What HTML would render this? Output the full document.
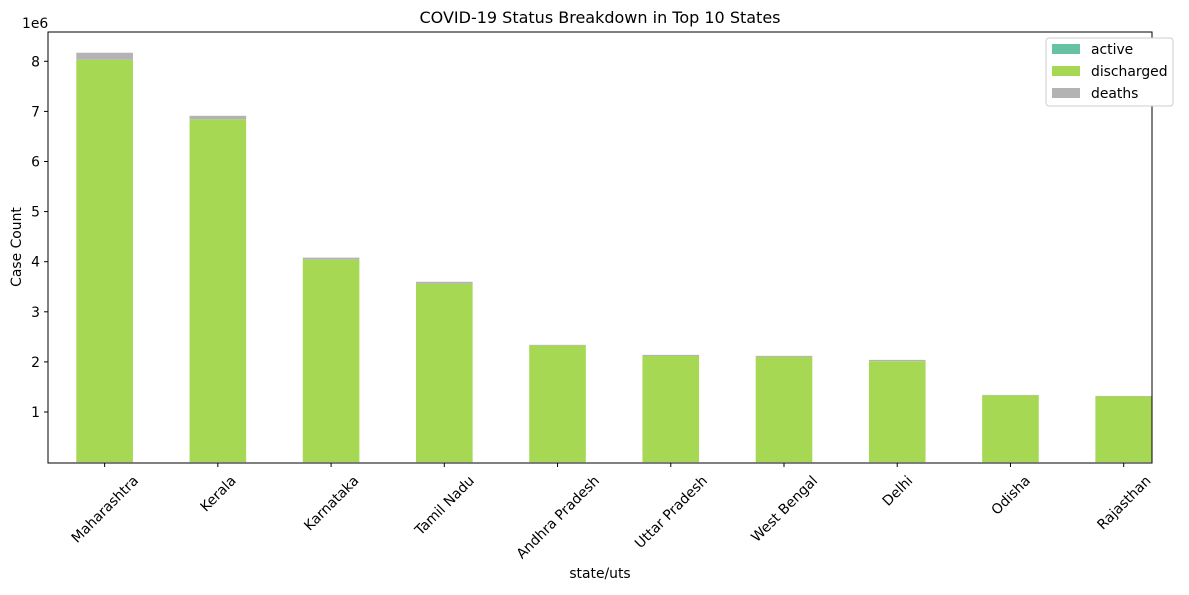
<!DOCTYPE html>
<html><head><meta charset="utf-8"><style>
body{margin:0;background:#fff;font-family:"Liberation Sans","DejaVu Sans",sans-serif;}
svg text{font-family:"DejaVu Sans","Liberation Sans",sans-serif;fill:#000;}
</style></head><body>
<svg id="chart" width="1189" height="590" xmlns="http://www.w3.org/2000/svg">
<text x="600" y="23" font-size="16" text-anchor="middle">COVID-19 Status Breakdown in Top 10 States</text>
<text x="22" y="28" font-size="13.9">1e6</text>
<text transform="translate(21,247) rotate(-90)" font-size="13.9" text-anchor="middle">Case Count</text>
<text x="600" y="578" font-size="13.9" text-anchor="middle">state/uts</text>
<g id="bars"></g>
<g id="axes"></g>
<g>
<rect x="1046" y="38" width="127" height="68" rx="3" fill="#fff" stroke="#ccc"/>
<rect x="1052" y="44" width="28" height="10" fill="#66c2a5"/>
<text x="1091" y="54" font-size="13.9">active</text>
<rect x="1052" y="66" width="28" height="10" fill="#a6d854"/>
<text x="1091" y="76" font-size="13.9">discharged</text>
<rect x="1052" y="88" width="28" height="10" fill="#b3b3b3"/>
<text x="1091" y="98" font-size="13.9">deaths</text>
</g>
</svg>
<script>
const categories=["Maharashtra","Kerala","Karnataka","Tamil Nadu","Andhra Pradesh","Uttar Pradesh","West Bengal","Delhi","Odisha","Rajasthan"];
const active=[0.001,0.002,0.001,0.001,0.0005,0.0003,0.0005,0.0004,0.0005,0.0003];
const discharged=[8.03,6.84,4.04,3.56,2.325,2.117,2.099,2.014,1.331,1.311];
const deaths=[0.14,0.07,0.04,0.038,0.015,0.023,0.021,0.026,0.009,0.0095];
const yTicks=[1,2,3,4,5,6,7,8];
const NS="http://www.w3.org/2000/svg";
const L=48,R=1152,T=32,B=463;
const y0=462.1,unit=50.1;
function yScale(v){return y0-v*unit;}
const step=(R-L)/(categories.length-0.25);
function xScale(i){return L+step*(i+0.5);}
const bw=step*0.5;
const bars=document.getElementById('bars'),axes=document.getElementById('axes');
function mk(tag,attrs,parent){const e=document.createElementNS(NS,tag);for(const k in attrs)e.setAttribute(k,attrs[k]);parent.appendChild(e);return e;}
const series=[[active,"#66c2a5","active"],[discharged,"#a6d854","discharged"],[deaths,"#b3b3b3","deaths"]];
categories.forEach((c,i)=>{
  let base=0;
  series.forEach(([arr,col,nm])=>{
    const v=arr[i];
    const r=mk('rect',{x:xScale(i)-bw/2,y:yScale(base+v),width:bw,height:yScale(base)-yScale(base+v),fill:col},bars);
    
    
    base+=v;
  });
  const t=mk('line',{x1:xScale(i),x2:xScale(i),y1:B,y2:B+4,stroke:'#000'},axes);
  
  
  const lb=mk('text',{'font-size':'13.9','text-anchor':'middle'},axes);
  lb.textContent=c;
  
  
  const w=lb.getComputedTextLength();
  const cy=B+10+(w+14)*0.354;
  lb.setAttribute('transform',`translate(${xScale(i)},${cy}) rotate(-45)`);
  lb.setAttribute('dy','5');
});
yTicks.forEach(v=>{
  const t=mk('line',{x1:L-4,x2:L,y1:yScale(v),y2:yScale(v),stroke:'#000'},axes);
  
  
  const lb=mk('text',{x:L-8,y:yScale(v)+5,'font-size':'13.9','text-anchor':'end'},axes);
  lb.textContent=v;
  
  
});
const fr=mk('rect',{x:L,y:T,width:R-L,height:B-T,fill:'none',stroke:'#000','stroke-width':1},axes);


</script>
</body></html>
